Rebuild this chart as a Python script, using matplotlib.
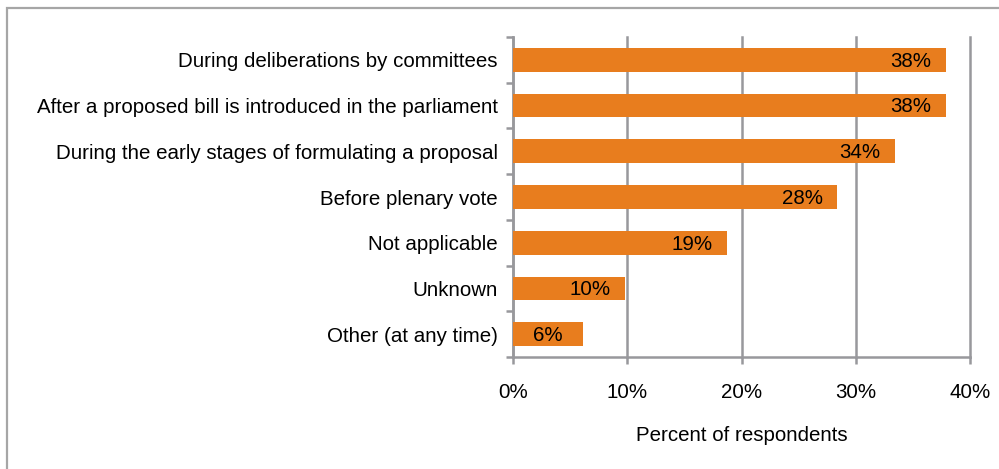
import numpy as np
import matplotlib.pyplot as plt
from matplotlib.patches import Rectangle
from matplotlib.ticker import FuncFormatter

plt.rcParams['font.family'] = ['Liberation Sans', 'DejaVu Sans']

# data (top to bottom as in the picture)
categories = ["During deliberations by committees",
              "After a proposed bill is introduced in the parliament",
              "During the early stages of formulating a proposal",
              "Before plenary vote",
              "Not applicable",
              "Unknown",
              "Other (at any time)"]
values = [37.9, 37.9, 33.4, 28.4, 18.7, 9.8, 6.1]
value_labels = ["38%", "38%", "34%", "28%", "19%", "10%", "6%"]
xticks = [0, 10, 20, 30, 40]

bar_color = "#E87D1E"
grid_color = "#98989C"
fs = 14.8

W, H = 999, 469
fig = plt.figure(figsize=(W / 100, H / 100), dpi=100)

# frame around the chart area
fig.patches.append(Rectangle((7 / W, -0.1), 1.2, (H - 8) / H + 0.1,
                             transform=fig.transFigure, fill=False,
                             edgecolor="#A6A6A6", linewidth=1.6))

ax = fig.add_axes([513 / W, 1 - 357 / H, (970 - 513) / W, (357 - 37) / H])

y = np.arange(len(categories))
ax.barh(y, values, height=0.52, color=bar_color, zorder=3)

for yi, v, lab in zip(y, values, value_labels):
    ax.text(v - 3.05, yi + 0.03, lab, ha="center", va="center",
            fontsize=fs, color="black", zorder=4)

ax.set_ylim(len(categories) - 0.5, -0.5)
ax.set_xlim(0, 40)
ax.set_xticks(xticks)
ax.xaxis.set_major_formatter(FuncFormatter(lambda v, p: "%d%%" % v))
ax.set_yticks(y)
ax.set_yticklabels(categories)
ax.set_yticks(np.arange(len(categories) + 1) - 0.5, minor=True)

ax.grid(axis="x", color=grid_color, linewidth=1.8, zorder=0)
for gl in ax.get_xgridlines():
    gl.set_clip_on(False)
for s in ["top", "right"]:
    ax.spines[s].set_visible(False)
for s in ["left", "bottom"]:
    ax.spines[s].set_color(grid_color)
    ax.spines[s].set_linewidth(1.8)

ax.tick_params(axis="y", which="major", length=0, pad=11, labelsize=fs)
ax.tick_params(axis="y", which="minor", length=5, width=1.8, color=grid_color)
ax.tick_params(axis="x", which="major", length=5, width=1.8, color=grid_color,
               pad=14, labelsize=fs)

ax.set_xlabel("Percent of respondents", fontsize=fs, labelpad=17)

fig.savefig("out.png", dpi=100)
